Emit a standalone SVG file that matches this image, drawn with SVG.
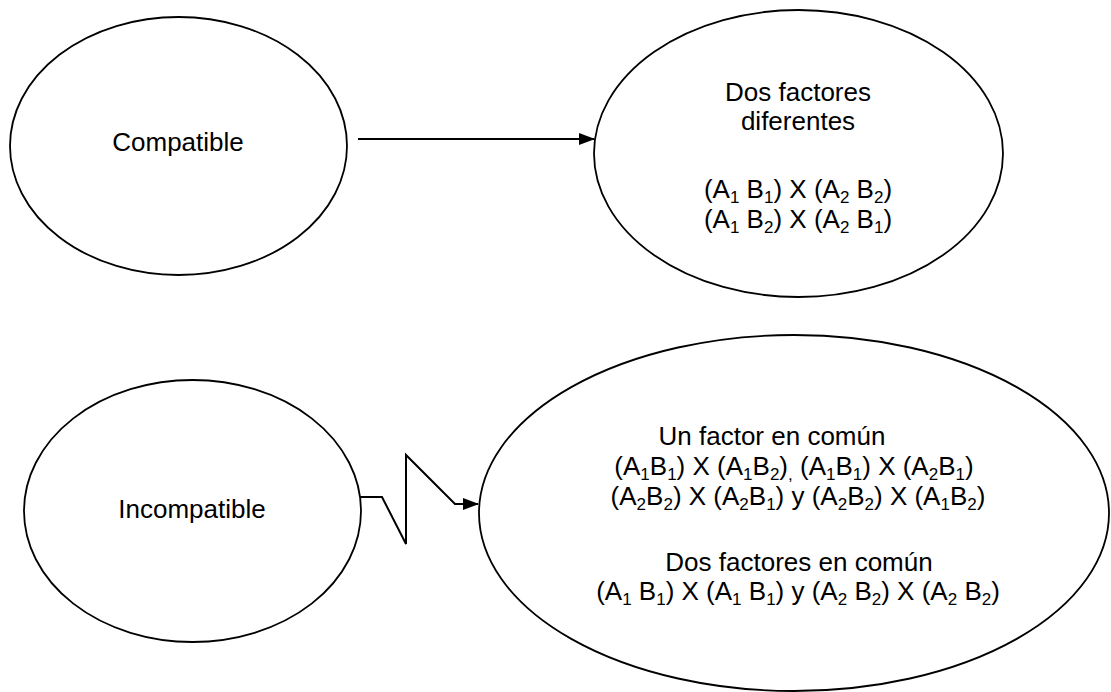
<svg xmlns="http://www.w3.org/2000/svg" width="1111" height="692" viewBox="0 0 1111 692">
<style>
.node{fill:#fff;stroke:#000;stroke-width:1.8}
.t{font-family:"Liberation Sans",Arial,sans-serif;font-size:26px;fill:#000;text-anchor:middle}
.s{font-size:17px}
.c{fill:none;stroke:#000;stroke-width:2}
</style>
<defs>
<marker id="ah" markerUnits="userSpaceOnUse" markerWidth="16" markerHeight="12" refX="15" refY="6" orient="auto">
<path d="M0,0 L16,6 L0,12 z" fill="#000"/>
</marker>
</defs>
<rect width="1111" height="692" fill="#fff"/>
<g id="connectors">
<path class="c" d="M358,139 L594,139" marker-end="url(#ah)"/>
<path class="c" d="M359,497 L382,497 L406,544 L406,455 L455,504 L478,504" marker-end="url(#ah)"/>
</g>
<g id="compatible">
<ellipse class="node" cx="178.5" cy="146" rx="168.5" ry="129"/>
<text class="t" x="178" y="151">Compatible</text>
</g>
<g id="dos-factores-diferentes">
<ellipse class="node" cx="798.5" cy="153.5" rx="204.5" ry="143.5"/>
<text class="t" x="798" y="101">Dos factores</text>
<text class="t" x="798" y="130">diferentes</text>
<text class="t" x="798" y="198">(A<tspan class="s" dy="5">1</tspan><tspan dy="-5"> B</tspan><tspan class="s" dy="5">1</tspan><tspan dy="-5">) X (A</tspan><tspan class="s" dy="5">2</tspan><tspan dy="-5"> B</tspan><tspan class="s" dy="5">2</tspan><tspan dy="-5">)</tspan></text>
<text class="t" x="798" y="228">(A<tspan class="s" dy="5">1</tspan><tspan dy="-5"> B</tspan><tspan class="s" dy="5">2</tspan><tspan dy="-5">) X (A</tspan><tspan class="s" dy="5">2</tspan><tspan dy="-5"> B</tspan><tspan class="s" dy="5">1</tspan><tspan dy="-5">)</tspan></text>
</g>
<g id="incompatible">
<ellipse class="node" cx="192.5" cy="511" rx="168.5" ry="131"/>
<text class="t" x="192" y="518">Incompatible</text>
</g>
<g id="factores-en-comun">
<ellipse class="node" cx="794" cy="513" rx="315" ry="178"/>
<text class="t" x="772" y="445">Un factor en común</text>
<text class="t" x="794" y="475">(A<tspan class="s" dy="5">1</tspan><tspan dy="-5">B</tspan><tspan class="s" dy="5">1</tspan><tspan dy="-5">) X (A</tspan><tspan class="s" dy="5">1</tspan><tspan dy="-5">B</tspan><tspan class="s" dy="5">2</tspan><tspan dy="-5">)</tspan><tspan class="s" dy="5">,</tspan><tspan dy="-5"> (A</tspan><tspan class="s" dy="5">1</tspan><tspan dy="-5">B</tspan><tspan class="s" dy="5">1</tspan><tspan dy="-5">) X (A</tspan><tspan class="s" dy="5">2</tspan><tspan dy="-5">B</tspan><tspan class="s" dy="5">1</tspan><tspan dy="-5">)</tspan></text>
<text class="t" x="798" y="505">(A<tspan class="s" dy="5">2</tspan><tspan dy="-5">B</tspan><tspan class="s" dy="5">2</tspan><tspan dy="-5">) X (A</tspan><tspan class="s" dy="5">2</tspan><tspan dy="-5">B</tspan><tspan class="s" dy="5">1</tspan><tspan dy="-5">) y (A</tspan><tspan class="s" dy="5">2</tspan><tspan dy="-5">B</tspan><tspan class="s" dy="5">2</tspan><tspan dy="-5">) X (A</tspan><tspan class="s" dy="5">1</tspan><tspan dy="-5">B</tspan><tspan class="s" dy="5">2</tspan><tspan dy="-5">)</tspan></text>
<text class="t" x="799" y="571">Dos factores en común</text>
<text class="t" x="798" y="600">(A<tspan class="s" dy="5">1</tspan><tspan dy="-5"> B</tspan><tspan class="s" dy="5">1</tspan><tspan dy="-5">) X (A</tspan><tspan class="s" dy="5">1</tspan><tspan dy="-5"> B</tspan><tspan class="s" dy="5">1</tspan><tspan dy="-5">) y (A</tspan><tspan class="s" dy="5">2</tspan><tspan dy="-5"> B</tspan><tspan class="s" dy="5">2</tspan><tspan dy="-5">) X (A</tspan><tspan class="s" dy="5">2</tspan><tspan dy="-5"> B</tspan><tspan class="s" dy="5">2</tspan><tspan dy="-5">)</tspan></text>
</g>
</svg>
